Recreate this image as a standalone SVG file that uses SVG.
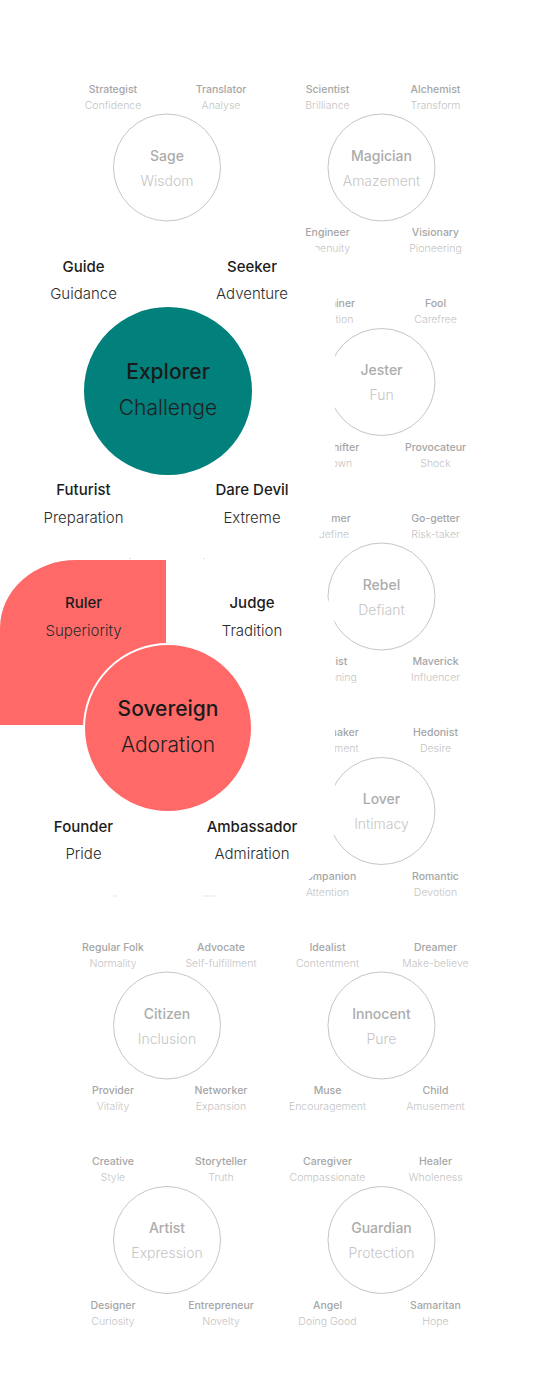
<svg xmlns="http://www.w3.org/2000/svg" width="540" height="1384" viewBox="0 0 540 1384">
<style>
text{font-family:Inter,"Noto Sans","Liberation Sans",sans-serif;text-anchor:middle}
.lb{font-size:10.5px;font-weight:500;fill:#a6a6a6}
.sl{font-size:10.5px;font-weight:300;fill:#c4c4c4}
.nm{font-size:14px;font-weight:500;fill:#acacac}
.vl{font-size:14px;font-weight:300;fill:#c6c6c6}
.ring{fill:none;stroke:#c6c6c6;stroke-width:1}
.hl{font-size:15px;font-weight:500;fill:#1c1c1c}
.hs{font-size:15px;font-weight:300;fill:#2c2c2c}
.bn{font-size:21px;font-weight:500;fill:#1a1a1a}
.bv{font-size:21px;font-weight:300;fill:#1f1f1f}
.cover{fill:#ffffff}
.crumb{fill:#e4e4e4}
</style>
<rect width="540" height="1384" fill="#ffffff"/>
<g id="connectors"/>

<g id="sage">
<circle class="ring" cx="167" cy="167.5" r="53.5"/>
<text class="nm" x="167" y="160.5">Sage</text><text class="vl" x="167" y="185.5">Wisdom</text>
<text class="lb" x="113" y="92.5">Strategist</text><text class="sl" x="113" y="108.5">Confidence</text>
<text class="lb" x="221" y="92.5">Translator</text><text class="sl" x="221" y="108.5">Analyse</text>
</g>
<g id="magician">
<circle class="ring" cx="381.5" cy="167.5" r="53.5"/>
<text class="nm" x="381.5" y="160.5">Magician</text><text class="vl" x="381.5" y="185.5">Amazement</text>
<text class="lb" x="327.5" y="92.5">Scientist</text><text class="sl" x="327.5" y="108.5">Brilliance</text>
<text class="lb" x="435.5" y="92.5">Alchemist</text><text class="sl" x="435.5" y="108.5">Transform</text>
<text class="lb" x="327.5" y="236">Engineer</text><text class="sl" x="327.5" y="252">Ingenuity</text>
<text class="lb" x="435.5" y="236">Visionary</text><text class="sl" x="435.5" y="252">Pioneering</text>
</g>
<g id="jester">
<circle class="ring" cx="381.5" cy="382" r="53.5"/>
<text class="nm" x="381.5" y="375">Jester</text><text class="vl" x="381.5" y="400">Fun</text>
<text class="lb" x="327.5" y="307">Entertainer</text><text class="sl" x="327.5" y="323">Distraction</text>
<text class="lb" x="435.5" y="307">Fool</text><text class="sl" x="435.5" y="323">Carefree</text>
<text class="lb" x="327.5" y="450.5">Shapeshifter</text><text class="sl" x="329" y="466.5">Unknown</text>
<text class="lb" x="435.5" y="450.5">Provocateur</text><text class="sl" x="435.5" y="466.5">Shock</text>
</g>
<g id="rebel">
<circle class="ring" cx="381.5" cy="596.5" r="53.5"/>
<text class="nm" x="381.5" y="589.5">Rebel</text><text class="vl" x="381.5" y="614.5">Defiant</text>
<text class="lb" x="327.5" y="521.5">Reformer</text><text class="sl" x="327.5" y="537.5">Redefine</text>
<text class="lb" x="435.5" y="521.5">Go-getter</text><text class="sl" x="435.5" y="537.5">Risk-taker</text>
<text class="lb" x="328.5" y="665">Activist</text><text class="sl" x="327.5" y="681">Questioning</text>
<text class="lb" x="435.5" y="665">Maverick</text><text class="sl" x="435.5" y="681">Influencer</text>
</g>
<g id="lover">
<circle class="ring" cx="381.5" cy="811" r="53.5"/>
<text class="nm" x="381.5" y="804">Lover</text><text class="vl" x="381.5" y="829">Intimacy</text>
<text class="lb" x="327.5" y="736">Matchmaker</text><text class="sl" x="327.5" y="752">Commitment</text>
<text class="lb" x="435.5" y="736">Hedonist</text><text class="sl" x="435.5" y="752">Desire</text>
<text class="lb" x="327.5" y="879.5">Companion</text><text class="sl" x="327.5" y="895.5">Attention</text>
<text class="lb" x="435.5" y="879.5">Romantic</text><text class="sl" x="435.5" y="895.5">Devotion</text>
</g>
<g id="citizen">
<circle class="ring" cx="167" cy="1025.5" r="53.5"/>
<text class="nm" x="167" y="1018.5">Citizen</text><text class="vl" x="167" y="1043.5">Inclusion</text>
<text class="lb" x="113" y="950.5">Regular Folk</text><text class="sl" x="113" y="966.5">Normality</text>
<text class="lb" x="221" y="950.5">Advocate</text><text class="sl" x="221" y="966.5">Self-fulfillment</text>
<text class="lb" x="113" y="1094">Provider</text><text class="sl" x="113" y="1110">Vitality</text>
<text class="lb" x="221" y="1094">Networker</text><text class="sl" x="221" y="1110">Expansion</text>
</g>
<g id="innocent">
<circle class="ring" cx="381.5" cy="1025.5" r="53.5"/>
<text class="nm" x="381.5" y="1018.5">Innocent</text><text class="vl" x="381.5" y="1043.5">Pure</text>
<text class="lb" x="327.5" y="950.5">Idealist</text><text class="sl" x="327.5" y="966.5">Contentment</text>
<text class="lb" x="435.5" y="950.5">Dreamer</text><text class="sl" x="435.5" y="966.5">Make-believe</text>
<text class="lb" x="327.5" y="1094">Muse</text><text class="sl" x="327.5" y="1110">Encouragement</text>
<text class="lb" x="435.5" y="1094">Child</text><text class="sl" x="435.5" y="1110">Amusement</text>
</g>
<g id="artist">
<circle class="ring" cx="167" cy="1240" r="53.5"/>
<text class="nm" x="167" y="1233">Artist</text><text class="vl" x="167" y="1258">Expression</text>
<text class="lb" x="113" y="1165">Creative</text><text class="sl" x="113" y="1181">Style</text>
<text class="lb" x="221" y="1165">Storyteller</text><text class="sl" x="221" y="1181">Truth</text>
<text class="lb" x="113" y="1308.5">Designer</text><text class="sl" x="113" y="1324.5">Curiosity</text>
<text class="lb" x="221" y="1308.5">Entrepreneur</text><text class="sl" x="221" y="1324.5">Novelty</text>
</g>
<g id="guardian">
<circle class="ring" cx="381.5" cy="1240" r="53.5"/>
<text class="nm" x="381.5" y="1233">Guardian</text><text class="vl" x="381.5" y="1258">Protection</text>
<text class="lb" x="327.5" y="1165">Caregiver</text><text class="sl" x="327.5" y="1181">Compassionate</text>
<text class="lb" x="435.5" y="1165">Healer</text><text class="sl" x="435.5" y="1181">Wholeness</text>
<text class="lb" x="327.5" y="1308.5">Angel</text><text class="sl" x="327.5" y="1324.5">Doing Good</text>
<text class="lb" x="435.5" y="1308.5">Samaritan</text><text class="sl" x="435.5" y="1324.5">Hope</text>
</g>

<g id="panels">
<path class="cover" d="M-10,225 H265 A70,70 0 0 1 335,295 V496 A60,60 0 0 1 275,556 H-10 Z"/>
<path class="cover" d="M-10,560 H265 A70,70 0 0 1 335,630 V825 A70,70 0 0 1 265,895 H-10 Z"/>
<rect class="crumb" x="129" y="558" width="2" height="1"/>
<rect class="crumb" x="203" y="558" width="2" height="1"/>
<rect class="crumb" x="113" y="895.5" width="4" height="1"/>
<rect class="crumb" x="203" y="895.5" width="12" height="1"/>
</g>

<g id="explorer">
<circle cx="168" cy="391" r="84" fill="#02807b"/>
<text class="bn" x="168" y="379">Explorer</text><text class="bv" x="168" y="415">Challenge</text>
<text class="hl" x="83.5" y="272">Guide</text><text class="hs" x="83.5" y="299">Guidance</text>
<text class="hl" x="252" y="272">Seeker</text><text class="hs" x="252" y="299">Adventure</text>
<text class="hl" x="83.5" y="495">Futurist</text><text class="hs" x="83.5" y="523">Preparation</text>
<text class="hl" x="252" y="495">Dare Devil</text><text class="hs" x="252" y="523">Extreme</text>
</g>

<g id="ruler">
<path d="M0,725 V628 A76,68 0 0 1 76,560 H166 V725 Z" fill="#ff6a69"/>
<text class="hl" x="83.5" y="608">Ruler</text><text class="hs" x="83.5" y="636">Superiority</text>
</g>
<g id="sovereign">
<circle cx="168" cy="728" r="84" fill="#ff6a69" stroke="#ffffff" stroke-width="2"/>
<text class="bn" x="168" y="716">Sovereign</text><text class="bv" x="168" y="752">Adoration</text>
<text class="hl" x="252" y="608">Judge</text><text class="hs" x="252" y="636">Tradition</text>
<text class="hl" x="83.5" y="832">Founder</text><text class="hs" x="83.5" y="859">Pride</text>
<text class="hl" x="252" y="832">Ambassador</text><text class="hs" x="252" y="859">Admiration</text>
</g>
</svg>
